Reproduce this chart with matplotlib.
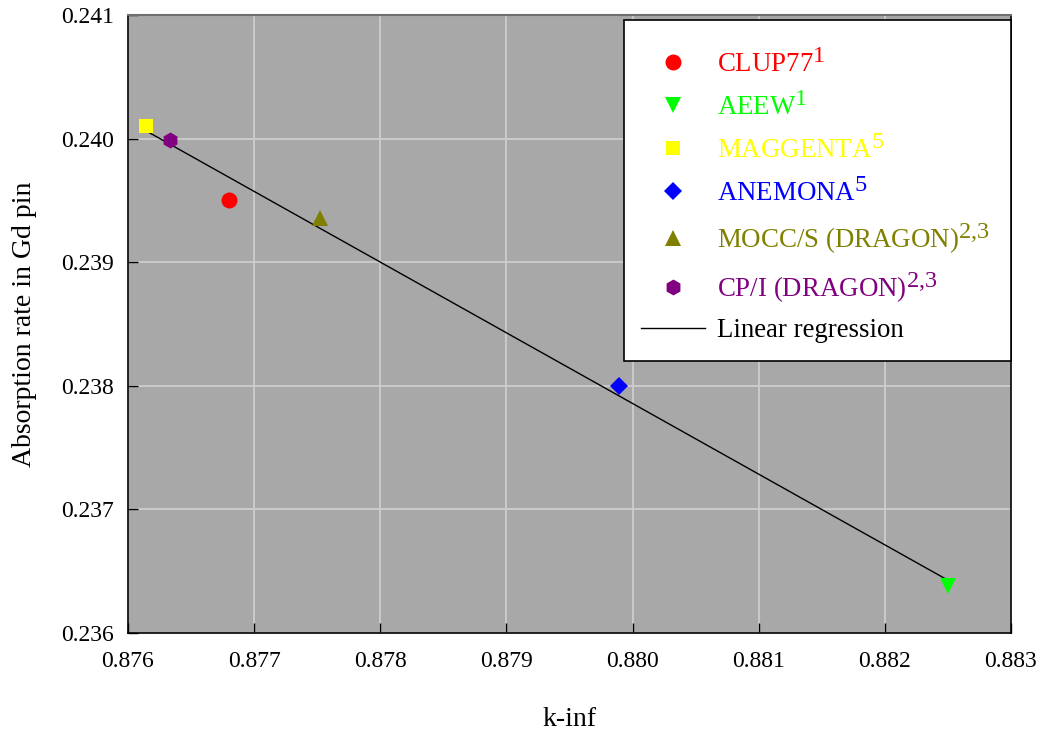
import matplotlib
matplotlib.use('Agg')
import matplotlib.pyplot as plt
import matplotlib._mathtext as mathtext_interno
from matplotlib.patches import Rectangle
import numpy as np

# Dados
codes = ['CLUP77', 'AEEW', 'MAGGENTA', 'ANEMONA', 'MOCC/S (DRAGON)', 'CP/I (DRAGON)']
refs = ['1', '1', '5', '5', '2{,}3', '2{,}3']
k_inf = [0.87680, 0.88250, 0.87614, 0.87989, 0.87752, 0.87633]
absorption = [0.23950, 0.23638, 0.24010, 0.23800, 0.23936, 0.23999]
markers = ['o', 'v', 's', 'D', '^', 'h']
colors = ['#ff0000', '#00ff00', '#ffff00', '#0000ff', '#808000', '#800080']
sizes = [11.5, 12, 10, 9.5, 12, 11.5]

x_ticks = [0.876, 0.877, 0.878, 0.879, 0.880, 0.881, 0.882, 0.883]
y_ticks = [0.236, 0.237, 0.238, 0.239, 0.240, 0.241]

plt.rcParams['font.family'] = ['Liberation Serif', 'DejaVu Serif']
plt.rcParams['mathtext.default'] = 'regular'
# expoentes quase do tamanho do texto, como no original
mathtext_interno.SHRINK_FACTOR = 0.9

fig = plt.figure(figsize=(10.43, 7.32), dpi=100)
ax = fig.add_axes([128/1043, 99/732, 883/1043, 618/732])
ax.set_facecolor('#a8a8a8')

for x, y, m, c, s, nome, ref in zip(k_inf, absorption, markers, colors, sizes, codes, refs):
    ax.plot(x, y, linestyle='none', marker=m, color=c, markersize=s,
            markeredgewidth=0, label=f'{nome}$^{{{ref}}}$', zorder=3)

# Regressao linear
a, b = np.polyfit(k_inf, absorption, 1)
xr = np.array([min(k_inf), max(k_inf)])
ax.plot(xr, a * xr + b, color='black', linewidth=1.0, label='Linear regression', zorder=2)

ax.set_xlim(0.876, 0.883)
ax.set_ylim(0.236, 0.241)
ax.set_xticks(x_ticks)
ax.set_yticks(y_ticks)
ax.set_xticklabels([f'{v:.3f}' for v in x_ticks])
ax.set_yticklabels([f'{v:.3f}' for v in y_ticks])
ax.tick_params(direction='in', length=7, width=1, labelsize=17, pad=10)
ax.tick_params(axis='x', pad=13)
ax.grid(True, color='#cdcdcd', linewidth=1.3)
ax.set_axisbelow(True)

for lado in ['left', 'right', 'bottom']:
    ax.spines[lado].set_color('black')
    ax.spines[lado].set_linewidth(1.2)
ax.spines['top'].set_color('#707070')
ax.spines['top'].set_linewidth(1.5)

ax.set_xlabel('k-inf', fontsize=20, labelpad=25)
ax.set_ylabel('Absorption rate in Gd pin', fontsize=20, labelpad=17)

# caixa branca da legenda (desenhada à parte)
caixa = Rectangle((0.5617, 0.440), 0.4383, 0.552, transform=ax.transAxes,
                  facecolor='white', edgecolor='black', linewidth=1.2,
                  zorder=4, clip_on=False)
ax.add_patch(caixa)

leg = ax.legend(loc='upper left', bbox_to_anchor=(0.5815, 0.9458), borderaxespad=0,
                fontsize=19.4, frameon=False, handlelength=2.35, handletextpad=0.45,
                labelspacing=0.51, borderpad=0, numpoints=1)
leg.set_zorder(5)
for txt, c in zip(leg.get_texts(), colors + ['black']):
    txt.set_color(c)

fig.savefig('out.png', dpi=100)
